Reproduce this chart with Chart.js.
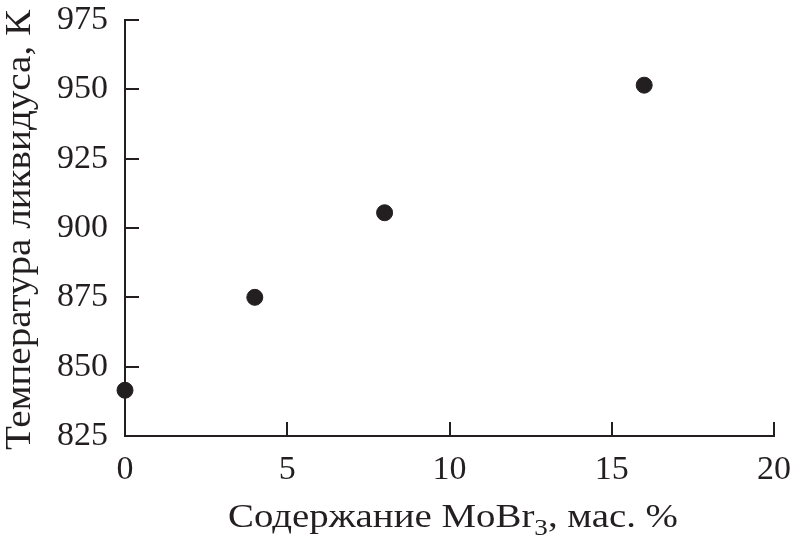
<!DOCTYPE html>
<html>
<head>
<meta charset="utf-8">
<script src="https://cdn.jsdelivr.net/npm/chart.js@4/dist/chart.umd.min.js"></script>
<style>
  html, body { margin: 0; padding: 0; background: #fff; }
  #chart { display: block; }
</style>
</head>
<body>
<canvas id="chart" width="793" height="551"></canvas>
<script>
// MoBr3 content, wt. %
const contents = [0, 4, 8, 16];
// liquidus temperature, K
const liquidus = [841.5, 875, 905.5, 951.5];

const xTicks = [0, 5, 10, 15, 20];
const yTicks = [825, 850, 875, 900, 925, 950, 975];

const ink = "#231f20";
const serif = "'Liberation Serif', 'Times New Roman', serif";

// fill text pieces stretched horizontally to a given total width (reference font is wider)
function stretchText(ctx, parts, width) {
  let natural = 0;
  parts.forEach((p) => {
    ctx.font = p.size + "px " + serif;
    p.w = ctx.measureText(p.t).width;
    natural += p.w;
  });
  ctx.scale(width / natural, 1);
  let cur = 0;
  parts.forEach((p) => {
    ctx.font = p.size + "px " + serif;
    ctx.fillText(p.t, cur, p.dy);
    cur += p.w;
  });
}

// short tick marks pointing into the plot area, plus both axis titles
const innerTicks = {
  id: "innerTicks",
  afterDraw(chart) {
    const ctx = chart.ctx;
    const { left, bottom } = chart.chartArea;
    const x = chart.scales.x;
    const y = chart.scales.y;
    const len = 14;
    ctx.save();
    ctx.strokeStyle = ink;
    ctx.lineWidth = 2;
    ctx.beginPath();
    xTicks.forEach((v) => {
      if (v === 0) return;
      const px = Math.round(x.getPixelForValue(v));
      ctx.moveTo(px, bottom);
      ctx.lineTo(px, bottom - len);
    });
    yTicks.forEach((v) => {
      if (v === 825) return;
      const py = Math.round(y.getPixelForValue(v));
      ctx.moveTo(left, py);
      ctx.lineTo(left + len, py);
    });
    ctx.stroke();

    ctx.fillStyle = ink;
    ctx.textBaseline = "alphabetic";
    ctx.textAlign = "left";

    // x title with subscript
    ctx.save();
    ctx.translate(228, 527);
    stretchText(ctx, [
      { t: "Содержание MoBr", size: 33, dy: 0 },
      { t: "3", size: 23, dy: 8 },
      { t: ", мас. %", size: 33, dy: 0 },
    ], 450);
    ctx.restore();

    // y title, rotated
    ctx.save();
    ctx.translate(30, 450);
    ctx.rotate(-Math.PI / 2);
    stretchText(ctx, [{ t: "Температура ликвидуса, К", size: 35, dy: 0 }], 440);
    ctx.restore();

    ctx.restore();
  },
};

new Chart(document.getElementById("chart"), {
  type: "scatter",
  data: {
    datasets: [
      {
        data: contents.map((c, i) => ({ x: c, y: liquidus[i] })),
        backgroundColor: ink,
        borderColor: ink,
        pointRadius: 8,
        pointHoverRadius: 8,
        clip: false,
      },
    ],
  },
  options: {
    responsive: false,
    animation: false,
    events: [],
    layout: { padding: { left: 0, right: 19, top: 20, bottom: 0 } },
    plugins: { legend: { display: false }, tooltip: { enabled: false } },
    scales: {
      x: {
        type: "linear",
        min: 0,
        max: 20,
        afterBuildTicks: (s) => { s.ticks = xTicks.map((v) => ({ value: v })); },
        afterFit: (s) => {
          s.height = 115;
          s.paddingLeft = 0;
          s.paddingRight = 0;
        },
        border: { color: ink, width: 2 },
        grid: { display: false, drawTicks: false },
        ticks: {
          color: ink,
          font: { family: serif, size: 34 },
          padding: 14,
          maxRotation: 0,
        },
      },
      y: {
        type: "linear",
        min: 825,
        max: 975,
        afterBuildTicks: (s) => { s.ticks = yTicks.map((v) => ({ value: v })); },
        afterFit: (s) => {
          s.width = 125;
          s.paddingTop = 0;
          s.paddingBottom = 0;
        },
        border: { color: ink, width: 2 },
        grid: { display: false, drawTicks: false },
        ticks: {
          color: ink,
          font: { family: serif, size: 34 },
          padding: 17,
        },
      },
    },
  },
  plugins: [innerTicks],
});
</script>
</body>
</html>
